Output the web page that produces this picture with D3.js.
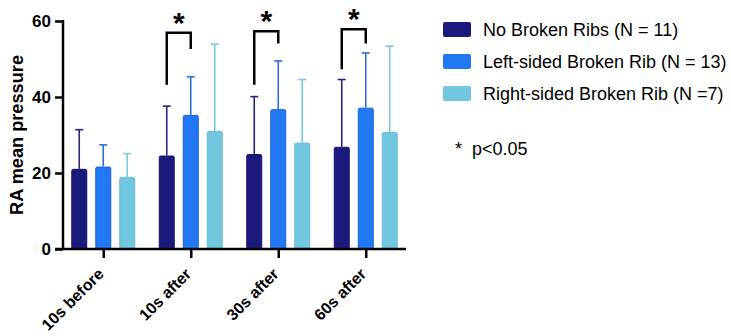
<!DOCTYPE html>
<html>
<head>
<meta charset="utf-8">
<script src="https://cdn.jsdelivr.net/npm/d3@7"></script>
<style>
  body { margin: 0; background: #fff; }
  text { font-family: "Liberation Sans", Arial, sans-serif; }
</style>
</head>
<body>
<div id="chart"></div>
<script>
// data
const timepoints = ["10s before", "10s after", "30s after", "60s after"];
const groups = ["No Broken Ribs (N = 11)", "Left-sided Broken Rib (N = 13)", "Right-sided Broken Rib (N =7)"];
const noBroken = [21.1, 24.6, 25.0, 26.9];
const leftBroken = [21.7, 35.3, 36.8, 37.2];
const rightBroken = [19.0, 31.1, 28.0, 30.8];
const noBrokenErr = [31.4, 37.6, 40.1, 44.6];
const leftBrokenErr = [27.4, 45.3, 49.5, 51.6];
const rightBrokenErr = [25.1, 53.9, 44.6, 53.4];
const yTicks = [0, 20, 40, 60];
// significance brackets (No Broken vs Left-sided)
const sigTime = ["10s after", "30s after", "60s after"];
const sigTop = [56.9, 57.3, 57.8];
const sigLeftEnd = [43.2, 43.2, 47.3];
const sigRightEnd = [52.6, 54.1, 54.1];

const colors = ["#1b1a7c", "#2178f2", "#72c7df"];
const strokes = ["#16156a", "#1a60d6", "#68bcd6"];
const errColors = ["#26267e", "#2f6fd2", "#78c8e0"];

const series = [noBroken, leftBroken, rightBroken];
const errs = [noBrokenErr, leftBrokenErr, rightBrokenErr];

const W = 731, H = 336;
const svg = d3.select("#chart").append("svg")
    .attr("width", W).attr("height", H);

const x = d3.scalePoint()
    .domain(timepoints)
    .range([63, 406])
    .padding(0.46);

const y = d3.scaleLinear()
    .domain([0, 60])
    .range([249, 21]);

const offset = d3.scalePoint()
    .domain([0, 1, 2])
    .range([-24, 24]);
const barW = 16;

// bars
series.forEach(function(vals, gi) {
    const g = svg.append("g");
    g.selectAll("line.err")
      .data(vals)
      .enter()
      .append("line")
        .attr("x1", (d, i) => x(timepoints[i]) + offset(gi))
        .attr("x2", (d, i) => x(timepoints[i]) + offset(gi))
        .attr("y1", d => y(d))
        .attr("y2", (d, i) => y(errs[gi][i]))
        .attr("stroke", errColors[gi])
        .attr("stroke-width", 1.6);
    g.selectAll("line.cap")
      .data(errs[gi])
      .enter()
      .append("line")
        .attr("x1", (d, i) => x(timepoints[i]) + offset(gi) - 4)
        .attr("x2", (d, i) => x(timepoints[i]) + offset(gi) + 4)
        .attr("y1", d => y(d))
        .attr("y2", d => y(d))
        .attr("stroke", errColors[gi])
        .attr("stroke-width", 1.6);
    g.selectAll("rect")
      .data(vals)
      .enter()
      .append("rect")
        .attr("x", (d, i) => x(timepoints[i]) + offset(gi) - barW / 2 + 0.5)
        .attr("y", d => y(d) + 0.5)
        .attr("width", barW - 1)
        .attr("height", d => y(0) - y(d) - 0.5)
        .attr("rx", 1.5)
        .attr("fill", colors[gi])
        .attr("stroke", strokes[gi])
        .attr("stroke-width", 1);
});

// y axis
const yAxis = svg.append("g")
    .attr("transform", "translate(63,0)")
    .call(d3.axisLeft(y).tickValues(yTicks).tickSize(8).tickPadding(4));
yAxis.select(".domain").attr("stroke", "#000").attr("stroke-width", 2.5)
    .attr("d", "M0," + (y(60) - 1) + "V" + y(0));
yAxis.selectAll(".tick line").attr("stroke", "#000").attr("stroke-width", 2.5);
yAxis.selectAll(".tick text")
    .attr("font-size", 17).attr("font-weight", "bold").attr("fill", "#000")
    .attr("font-family", "Liberation Sans, Arial, sans-serif");

// x axis
const xAxis = svg.append("g")
    .attr("transform", "translate(0," + y(0) + ")")
    .call(d3.axisBottom(x).tickSize(9));
xAxis.select(".domain").attr("stroke", "#000").attr("stroke-width", 2.5)
    .attr("d", "M55,0H406");
xAxis.selectAll(".tick line").attr("stroke", "#000").attr("stroke-width", 2.5);
xAxis.selectAll(".tick text")
    .attr("font-size", 16).attr("font-weight", "bold").attr("fill", "#000")
    .attr("font-family", "Liberation Sans, Arial, sans-serif")
    .attr("text-anchor", "end")
    .attr("x", 0).attr("y", 0).attr("dy", 0)
    .attr("transform", "translate(1,26) rotate(-45)");

// y label
svg.append("text")
    .attr("transform", "translate(23,135) rotate(-90)")
    .attr("text-anchor", "middle")
    .attr("font-size", 19)
    .attr("font-weight", "bold")
    .attr("textLength", 160)
    .attr("lengthAdjust", "spacingAndGlyphs")
    .text("RA mean pressure");

// significance brackets
sigTime.forEach(function(t, i) {
    const xl = x(t) + offset(0), xr = x(t) + offset(1);
    svg.append("path")
        .attr("d", "M" + xl + "," + y(sigLeftEnd[i]) + "V" + y(sigTop[i]) + "H" + xr + "V" + y(sigRightEnd[i]))
        .attr("fill", "none")
        .attr("stroke", "#000")
        .attr("stroke-width", 2.5);
    svg.append("text")
        .attr("x", (xl + xr) / 2)
        .attr("y", y(sigTop[i]))
        .attr("text-anchor", "middle")
        .attr("font-size", 30)
        .attr("font-weight", "bold")
        .text("*");
});

// legend
const legend = svg.append("g").attr("transform", "translate(443,22)");
groups.forEach(function(name, i) {
    legend.append("rect")
        .attr("x", 0).attr("y", i * 32)
        .attr("width", 28).attr("height", 15)
        .attr("rx", 2)
        .attr("fill", colors[i]);
    legend.append("text")
        .attr("x", 40).attr("y", i * 32 + 8)
        .attr("dy", "0.35em")
        .attr("font-size", 18)
        .text(name);
});
legend.append("text")
    .attr("x", 12).attr("y", 127)
    .attr("dy", "0.35em")
    .attr("font-size", 18)
    .text("*");
legend.append("text")
    .attr("x", 29).attr("y", 127)
    .attr("dy", "0.35em")
    .attr("font-size", 18)
    .text("p<0.05");
</script>
</body>
</html>
